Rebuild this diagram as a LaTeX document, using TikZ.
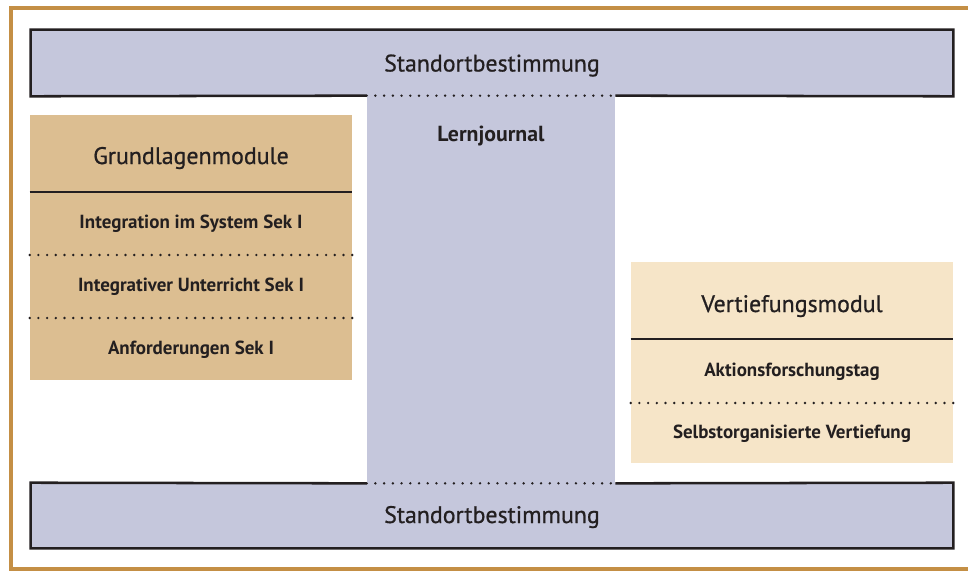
\documentclass[tikz,border=0pt]{standalone}
\usepackage{fontspec}
\setmainfont{PT Sans}
\newfontfamily\headfont{PT Sans}[FakeBold=0.7]
\usepackage{tikz}
\definecolor{barblue}{HTML}{C5C7DC}
\definecolor{grundfill}{HTML}{DCBE91}
\definecolor{vertfill}{HTML}{F6E5C8}
\definecolor{framebrown}{HTML}{C48F45}
\definecolor{ink}{HTML}{231F20}

\tikzset{
  titletext/.style={anchor=base,text=ink,font=\headfont\fontsize{17}{20}\selectfont},
  itemtext/.style={anchor=base,text=ink,font=\bfseries\fontsize{13.5}{15}\selectfont},
  solidrule/.style={draw=ink,line width=1.5pt},
  dotrule/.style={draw=ink,line width=1.9pt,line cap=round,dash pattern=on 0pt off 6.2pt}
}

\begin{document}
\begin{tikzpicture}[x=0.025cm,y=-0.025cm]
\useasboundingbox (0,0) rectangle (968,572);

% outer frame, open on the right
\draw[framebrown,line width=2.8pt] (968,8) -- (11,8) -- (11,569) -- (968,569);

\begin{scope}[every node/.style={rectangle,inner sep=0pt,fill=barblue}]
    \node[minimum width=23.05cm,minimum height=1.65cm] (SB1) at (492,63) {};
    \node[minimum width=23.05cm,minimum height=1.625cm] (SB2) at (492,515.5) {};
    \node[minimum width=6.2cm,minimum height=9.675cm] (LJ) at (491,289.5) {};
\end{scope}
\begin{scope}[every node/.style={rectangle,inner sep=0pt}]
    \node[fill=grundfill,minimum width=8.05cm,minimum height=6.625cm] (GM) at (191,247.5) {};
    \node[fill=vertfill,minimum width=8.05cm,minimum height=5.025cm] (VM) at (792,362.5) {};
\end{scope}

% bar borders, dotted where the journal column joins
\draw[solidrule,line width=1.8pt] (LJ.north west) -- (SB1.south west) -- (SB1.north west)
    -- (SB1.north east) -- (SB1.south east) -- (LJ.north east);
\draw[solidrule,line width=1.8pt] (LJ.south west) -- (SB2.north west) -- (SB2.south west)
    -- (SB2.south east) -- (SB2.north east) -- (LJ.south east);
\draw[dotrule] (LJ.north west) -- (LJ.north east);
\draw[dotrule] (LJ.south west) -- (LJ.south east);

% texts
\node[titletext] (SB1t) at (492,71.5) {Standortbestimmung};
\node[titletext] (SB2t) at (492,523) {Standortbestimmung};
\node[itemtext,font=\bfseries\fontsize{15.5}{18}\selectfont] (LJt) at (491,141) {Lernjournal};

\node[titletext] (GMt) at (191,164) {Grundlagenmodule};
\node[itemtext] (GM1) at (191,228) {Integration im System Sek I};
\node[itemtext] (GM2) at (191,291) {Integrativer Unterricht Sek I};
\node[itemtext] (GM3) at (191,354) {Anforderungen Sek I};

\node[titletext] (VMt) at (792,312) {Vertiefungsmodul};
\node[itemtext] (VM1) at (792,376) {Aktionsforschungstag};
\node[itemtext] (VM2) at (792,438) {Selbstorganisierte Vertiefung};

% rules inside the module boxes
\draw[solidrule] (GM.west |- 0,192) -- (GM.east |- 0,192);
\draw[dotrule] (GM.west |- 0,255) -- (GM.east |- 0,255);
\draw[dotrule] (GM.west |- 0,318) -- (GM.east |- 0,318);
\draw[solidrule] (VM.west |- 0,339) -- (VM.east |- 0,339);
\draw[dotrule] (VM.west |- 0,403) -- (VM.east |- 0,403);
\end{tikzpicture}
\end{document}
